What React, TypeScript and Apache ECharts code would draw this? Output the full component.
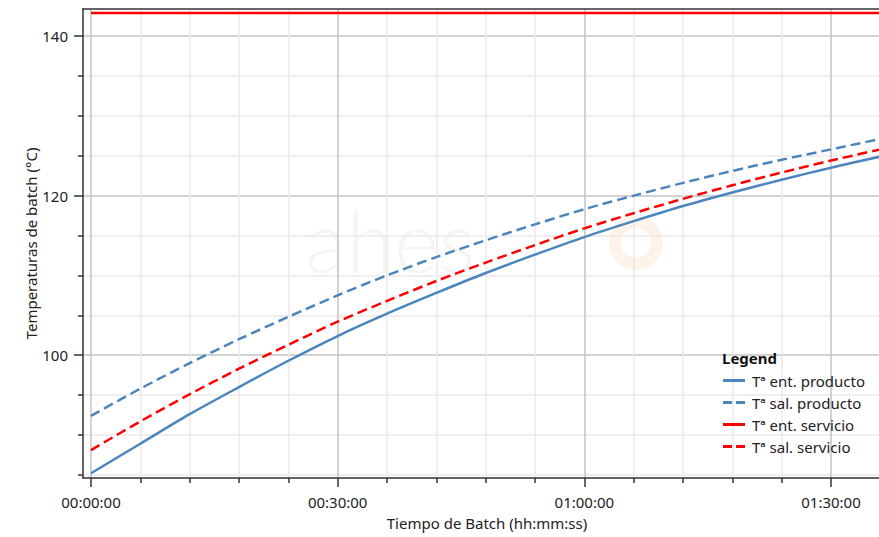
import React, { useEffect, useRef } from 'react';
import * as echarts from 'echarts';

// Time in minutes
const minutes = [0, 6, 12, 18, 24, 30, 36, 42, 48, 54, 60, 66, 72, 78, 84, 90, 96];
const entProducto = [85.2, 88.9, 92.6, 96.0, 99.3, 102.4, 105.2, 107.8, 110.3, 112.6, 114.8, 116.8, 118.7, 120.4, 122.0, 123.5, 124.9];
const salProducto = [92.4, 95.8, 99.0, 102.0, 104.8, 107.5, 110.0, 112.3, 114.4, 116.4, 118.3, 120.0, 121.6, 123.1, 124.5, 125.8, 127.1];
const entServicio = [142.9, 142.9, 142.9, 142.9, 142.9, 142.9, 142.9, 142.9, 142.9, 142.9, 142.9, 142.9, 142.9, 142.9, 142.9, 142.9, 142.9];
const salServicio = [88.1, 91.7, 95.1, 98.3, 101.3, 104.2, 106.8, 109.3, 111.6, 113.8, 115.9, 117.8, 119.6, 121.3, 122.9, 124.4, 125.8];

const seriesNames = ['Tª ent. producto', 'Tª sal. producto', 'Tª ent. servicio', 'Tª sal. servicio'];
const xTickValues = [0, 30, 60, 90];
const yTickValues = [100, 120, 140];

const FONT = 'Noto Sans';
const BLUE = '#4a86bd';
const RED = '#ff0000';
const SOLID_ICON = 'path://M0,0 H22 V3 H0 Z';
const DASH_ICON = 'path://M0,0 H9 V3 H0 Z M13,0 H22 V3 H13 Z';

function pad(n: number) {
  return n < 10 ? '0' + n : String(n);
}
function fmtTime(v: number) {
  const total = Math.round(v * 60);
  const h = Math.floor(total / 3600);
  const m = Math.floor((total % 3600) / 60);
  const s = total % 60;
  return pad(h) + ':' + pad(m) + ':' + pad(s);
}

export default function App() {
  const ref = useRef<HTMLDivElement>(null);
  useEffect(() => {
    const chart = echarts.init(ref.current!, null, { renderer: 'svg' });
    const mk = (vals: number[]) => minutes.map((m, i) => [m, vals[i]]);
    const option: any = {
      animation: false,
      backgroundColor: '#ffffff',
      textStyle: { fontFamily: FONT },
      title: {
        text: 'Legend',
        left: 722,
        top: 350,
        padding: 0,
        textStyle: { fontFamily: FONT, fontSize: 15, fontWeight: 'bold', color: '#111' },
      },
      legend: {
        orient: 'vertical',
        left: 723,
        top: 373,
        padding: 0,
        itemWidth: 22,
        itemHeight: 3,
        itemGap: 7,
        textStyle: { fontFamily: FONT, fontSize: 15, lineHeight: 14, color: '#222', padding: [0, 0, 0, 2] },
        data: [
          { name: seriesNames[0], icon: SOLID_ICON, itemStyle: { color: BLUE } },
          { name: seriesNames[1], icon: DASH_ICON, itemStyle: { color: BLUE } },
          { name: seriesNames[2], icon: SOLID_ICON, itemStyle: { color: RED } },
          { name: seriesNames[3], icon: DASH_ICON, itemStyle: { color: RED } },
        ],
      },
      grid: { left: 83, right: 0, top: 9, bottom: 59 },
      graphic: [
        {
          type: 'text',
          left: 305,
          top: 196,
          z: 0,
          silent: true,
          style: { text: 'ahes', font: '300 86px Lato', fill: 'rgba(200,200,200,0.18)' },
        },
        {
          type: 'ring',
          z: 0,
          silent: true,
          shape: { cx: 636, cy: 243, r: 27, r0: 15 },
          style: { fill: 'rgba(250,170,100,0.14)' },
        },
      ],
      xAxis: [
        {
          type: 'value',
          min: -0.973,
          max: 95.84,
          minInterval: 30,
          maxInterval: 30,
          name: 'Tiempo de Batch (hh:mm:ss)',
          nameLocation: 'middle',
          nameMoveOverlap: false,
          nameGap: 37,
          nameTextStyle: { fontFamily: FONT, fontSize: 15, color: '#222', padding: [0, 0, 0, 12] },
          axisLine: { show: true, onZero: false, lineStyle: { color: '#333', width: 1.5 } },
          axisTick: { show: true, length: 9, customValues: xTickValues, lineStyle: { color: '#333', width: 1.5 } },
          minorTick: { show: true, splitNumber: 5, length: 5, lineStyle: { color: '#333', width: 1.5 } },
          axisLabel: {
            customValues: xTickValues,
            margin: 16,
            fontFamily: FONT,
            fontSize: 15,
            color: '#222',
            formatter: (v: number) => (Math.abs(v / 30 - Math.round(v / 30)) < 1e-6 ? fmtTime(v) : ''),
          },
          splitLine: { show: true, lineStyle: { color: '#c4c4c4', width: 1.5 } },
          minorSplitLine: { show: true, lineStyle: { color: '#eee7ea', width: 1.5 } },
        },
        {
          type: 'value',
          position: 'top',
          min: -0.973,
          max: 95.84,
          axisLine: { show: true, onZero: false, lineStyle: { color: '#333', width: 1.5 } },
          axisTick: { show: false },
          axisLabel: { show: false },
          splitLine: { show: false },
        },
      ],
      yAxis: {
        type: 'value',
        min: 84.6,
        max: 143.4,
        minInterval: 20,
        maxInterval: 20,
        name: 'Temperaturas de batch (°C)',
        nameLocation: 'middle',
        nameMoveOverlap: false,
        nameGap: 45,
        nameTextStyle: { fontFamily: FONT, fontSize: 15, color: '#222' },
        axisLine: { show: true, onZero: false, lineStyle: { color: '#333', width: 1.5 } },
        axisTick: { show: true, length: 9, customValues: yTickValues, lineStyle: { color: '#333', width: 1.5 } },
        minorTick: { show: true, splitNumber: 4, length: 5, lineStyle: { color: '#333', width: 1.5 } },
        axisLabel: {
          customValues: yTickValues,
          margin: 15,
          fontFamily: FONT,
          fontSize: 15,
          color: '#222',
          formatter: (v: number) => (Math.abs(v % 20) < 1e-6 ? String(v) : ''),
        },
        splitLine: { show: true, lineStyle: { color: '#c4c4c4', width: 1.5 } },
        minorSplitLine: { show: true, lineStyle: { color: '#eee7ea', width: 1.5 } },
      },
      series: [
        {
          name: seriesNames[0],
          type: 'line',
          data: mk(entProducto),
          smooth: 0.3,
          showSymbol: false,
          symbol: 'none',
          z: 3,
          lineStyle: { color: BLUE, width: 2.5, type: 'solid' },
          itemStyle: { color: BLUE },
        },
        {
          name: seriesNames[1],
          type: 'line',
          data: mk(salProducto),
          smooth: 0.3,
          showSymbol: false,
          symbol: 'none',
          z: 3,
          lineStyle: { color: BLUE, width: 2.5, type: [10, 5] },
          itemStyle: { color: BLUE },
        },
        {
          name: seriesNames[2],
          type: 'line',
          data: mk(entServicio),
          showSymbol: false,
          symbol: 'none',
          z: 3,
          lineStyle: { color: RED, width: 2.5, type: 'solid' },
          itemStyle: { color: RED },
        },
        {
          name: seriesNames[3],
          type: 'line',
          data: mk(salServicio),
          smooth: 0.3,
          showSymbol: false,
          symbol: 'none',
          z: 3,
          lineStyle: { color: RED, width: 2.5, type: [10, 5] },
          itemStyle: { color: RED },
        },
      ],
    };
    chart.setOption(option);
    return () => chart.dispose();
  }, []);
  return <div ref={ref} style={{ position: 'fixed', left: 0, top: 0, width: 879, height: 537 }} />;
}
